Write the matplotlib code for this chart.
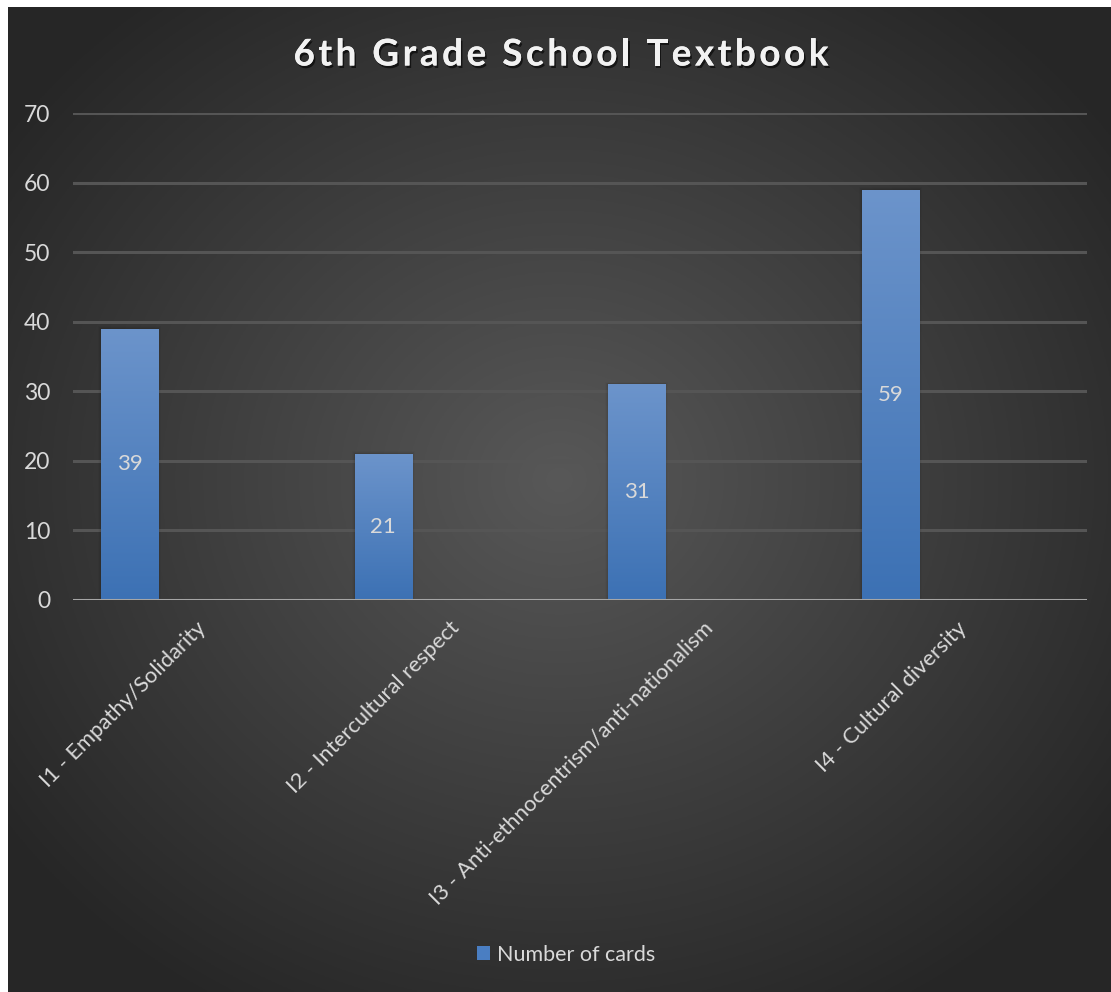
import numpy as np
import matplotlib
matplotlib.use("Agg")
import matplotlib.pyplot as plt
import matplotlib.patheffects as pe
from matplotlib.font_manager import FontProperties
from matplotlib.patches import Rectangle, Patch

categories = ["I1 - Empathy/Solidarity", "I2 - Intercultural respect",
              "I3 - Anti-ethnocentrism/anti-nationalism", "I4 - Cultural diversity"]
cards = [39, 21, 31, 59]
yticks = [0, 10, 20, 30, 40, 50, 60, 70]
title = "6th Grade School Textbook"
series_name = "Number of cards"

W, H = 1111, 992
fig = plt.figure(figsize=(W / 100, H / 100), dpi=100, facecolor="white")

# dark radial backdrop
bg = fig.add_axes([8 / W, 0, 1 - 8 / W, 1 - 7 / H], zorder=0)
yy, xx = np.mgrid[0:1:400j, 0:1:450j]
r = np.sqrt(((xx - 0.5) / 0.62) ** 2 + ((yy - 0.52) / 0.62) ** 2)
shade = 0.345 - (0.345 - 0.15) * np.clip(r, 0, 1)
bg.imshow(np.dstack([shade] * 3), aspect="auto", extent=[0, 1, 0, 1], origin="lower")
bg.set_axis_off()

txt = "#d9d9d9"
font = "Lato"

ax = fig.add_axes([73 / W, 1 - 600 / H, (1087 - 73) / W, (600 - 113) / H], zorder=1)
ax.patch.set_alpha(0)

x = np.arange(len(cards))
bx = x - 0.276
bw = 0.225

for v in yticks[1:]:
    ax.axhline(v, color="#555555", lw=2.2, zorder=1)
ax.axhline(0, color="#a6a6a6", lw=2.2, zorder=4)

bars = ax.bar(bx, cards, width=bw, color="#4a7ec2", zorder=3)
grad = np.linspace(0, 1, 256).reshape(-1, 1)
top = np.array([0x6c, 0x94, 0xcb]) / 255
bot = np.array([0x3c, 0x71, 0xb4]) / 255
img = bot + (top - bot) * grad[..., None]
for b, xc, v in zip(bars, bx, cards):
    # soft shadow behind each bar
    for k, a in enumerate([0.06, 0.04, 0.025]):
        d = (k + 1) * 0.004
        ax.add_patch(Rectangle((xc - bw / 2 - d, 0), bw + 2 * d, v + d * 30,
                               color="black", alpha=a, lw=0, zorder=2))
    im = ax.imshow(img, aspect="auto", origin="lower", zorder=3,
                   extent=[xc - bw / 2, xc + bw / 2, 0, v])
    im.set_clip_path(b)
    ax.text(xc, v / 2, str(v), ha="center", va="center", color=txt,
            fontsize=16, family=font, zorder=5)
ax.set_xlim(-0.5, 3.5)
ax.set_ylim(0, 70)

ax.set_yticks(yticks)
ax.set_yticklabels([str(v) for v in yticks], color=txt, fontsize=16.5, family=font)
ax.set_xticks(x + 0.012)
ax.set_xticklabels(categories, color=txt, fontsize=15.8, family=font,
                   rotation=45, ha="right", rotation_mode="anchor", va="center")
ax.tick_params(length=0)
ax.tick_params(axis="y", pad=16.5)
ax.tick_params(axis="x", pad=18)
for s in ax.spines.values():
    s.set_visible(False)

# legend
leg = fig.legend(handles=[Patch(facecolor="#4a7ec2", label=series_name)],
                 loc="center", bbox_to_anchor=(566 / W, 1 - 955 / H), frameon=False,
                 prop=FontProperties(family=font, size=15.5), labelcolor=txt,
                 handlelength=0.62, handleheight=0.62, handletextpad=0.3)

# title drawn letter by letter for wider tracking
renderer = fig.canvas.get_renderer()
tprop = FontProperties(family=font, weight="bold", size=26.5)
widths = []
for c in title:
    if c == " ":
        widths.append(renderer.get_text_width_height_descent("a a", tprop, ismath=False)[0]
                      - renderer.get_text_width_height_descent("aa", tprop, ismath=False)[0])
    else:
        widths.append(renderer.get_text_width_height_descent(c, tprop, ismath=False)[0])
track = 3.6
total = sum(widths) + track * (len(title) - 1)
xpos = 561 - total / 2
shadow = [pe.withSimplePatchShadow(offset=(1.2, -1.8), shadow_rgbFace="black", alpha=0.6),
          pe.Normal()]
for c, w in zip(title, widths):
    if c != " ":
        fig.text(xpos / W, 1 - 55 / H, c, fontproperties=tprop, color="#f2f2f2",
                 ha="left", va="center", path_effects=shadow, zorder=6)
    xpos += w + track

fig.savefig("out.png", dpi=100, facecolor="white")
